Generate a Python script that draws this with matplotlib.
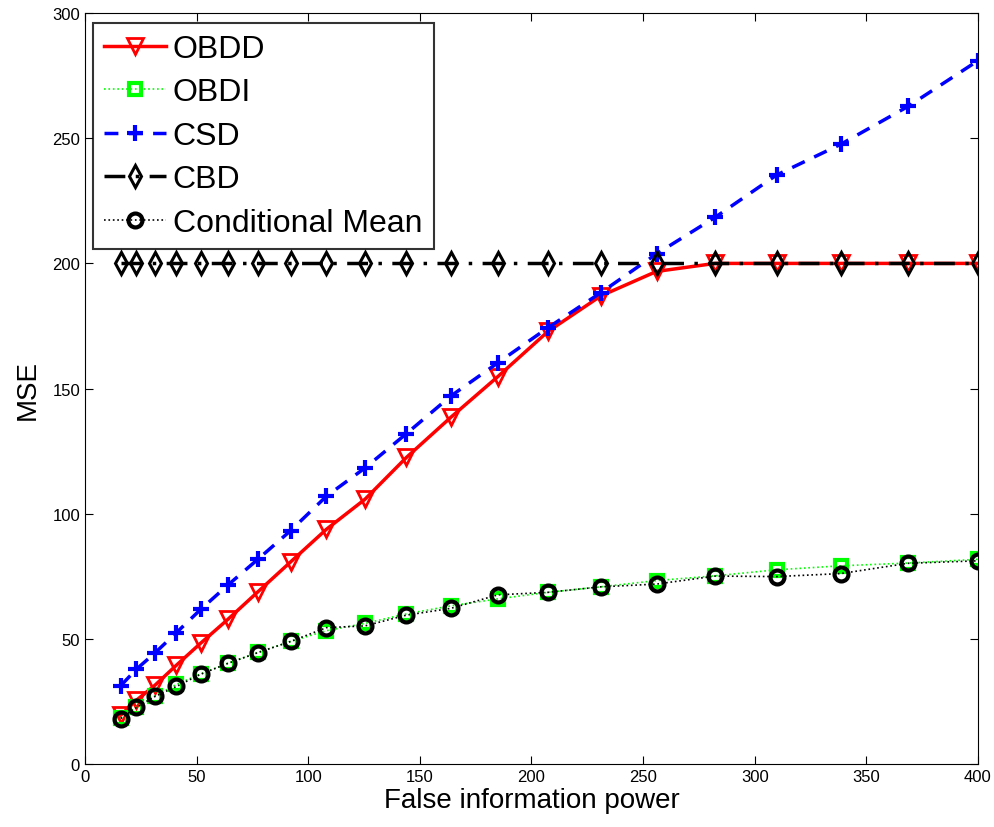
"""
MSE versus false information power for several detection/estimation schemes.
"""

import matplotlib
import matplotlib.pyplot as plt

matplotlib.use('Agg')

power = [16, 23.04, 31.36, 40.96, 51.84, 64, 77.44, 92.16, 108.16, 125.44,
         144, 163.84, 184.96, 207.36, 231.04, 256, 282.24, 309.76, 338.56,
         368.64, 400]

obdd = [19.5, 25.5, 31.5, 39.5, 48.3, 57.8, 68.8, 80.8, 93.8, 105.8,
        122.5, 138.5, 154.8, 172.8, 187, 196.8, 200, 200, 200, 200, 200]
obdi = [18.4, 22.8, 27.2, 31.8, 36, 40.3, 44.6, 49, 53.3, 56.2,
        60, 63.2, 66, 68.6, 70.8, 73.3, 75.2, 77.6, 79.2, 80.3, 81.8]
csd = [31.3, 37.9, 44.4, 52.5, 61.8, 71.5, 81.8, 93.3, 107, 118.3,
       132, 147, 160.3, 174.3, 188.3, 203.8, 218.4, 235.3, 247.6, 262.7, 281]
cbd = [200] * 21
cond_mean = [18.2, 22.6, 27, 31, 35.9, 40.2, 44.5, 49, 54.5, 55.2,
             59.5, 62.2, 67.6, 68.6, 70.8, 71.9, 75.1, 74.9, 76.1, 80.2, 81.2]

x_ticks = [0, 50, 100, 150, 200, 250, 300, 350, 400]
y_ticks = [0, 50, 100, 150, 200, 250, 300]


def plot_mse():
    plt.rcParams['font.family'] = ['Liberation Sans', 'DejaVu Sans']
    fig = plt.figure(figsize=(9.95, 8.28), dpi=100)
    ax = fig.add_axes([0.0854, 0.076, 0.8975, 0.907])

    ax.plot(power, obdd, color="red", linestyle="-", linewidth=2.5,
            marker="v", markersize=12, markerfacecolor="none",
            markeredgewidth=2, label="OBDD")
    ax.plot(power, obdi, color=(0, 1, 0), linestyle=":", linewidth=1.2,
            marker="s", markersize=8, markerfacecolor="none",
            markeredgewidth=3, label="OBDI")
    ax.plot(power, csd, color="blue", linestyle="--", linewidth=2.5,
            dashes=(4, 3), marker="+", markersize=11,
            markeredgewidth=3, label="CSD")
    ax.plot(power, cbd, color="black", linestyle="-.", linewidth=2.5,
            dashes=(6, 3, 1, 3), marker="d", markersize=11,
            markerfacecolor="none", markeredgewidth=2.2, label="CBD")
    ax.plot(power, cond_mean, color="black", linestyle=":", linewidth=1.2,
            marker="o", markersize=10, markerfacecolor="none",
            markeredgewidth=3, label="Conditional Mean")

    ax.set_xlim(0, 400)
    ax.set_ylim(0, 300)
    ax.set_xticks(x_ticks)
    ax.set_yticks(y_ticks)
    ax.tick_params(direction="in", top=True, right=True, labelsize=12,
                   length=6)
    ax.set_xlabel("False information power", fontsize=20, labelpad=2)
    ax.set_ylabel("MSE", fontsize=20, labelpad=8)

    leg = ax.legend(loc="upper left", fontsize=23, frameon=True,
                    fancybox=False, edgecolor="black", handlelength=1.95,
                    borderpad=0.35, labelspacing=0.42, handletextpad=0.2,
                    borderaxespad=0, bbox_to_anchor=(0.009, 0.987))
    leg.get_frame().set_linewidth(1.5)

    fig.savefig("out.png", dpi=100)


if __name__ == "__main__":
    plot_mse()
